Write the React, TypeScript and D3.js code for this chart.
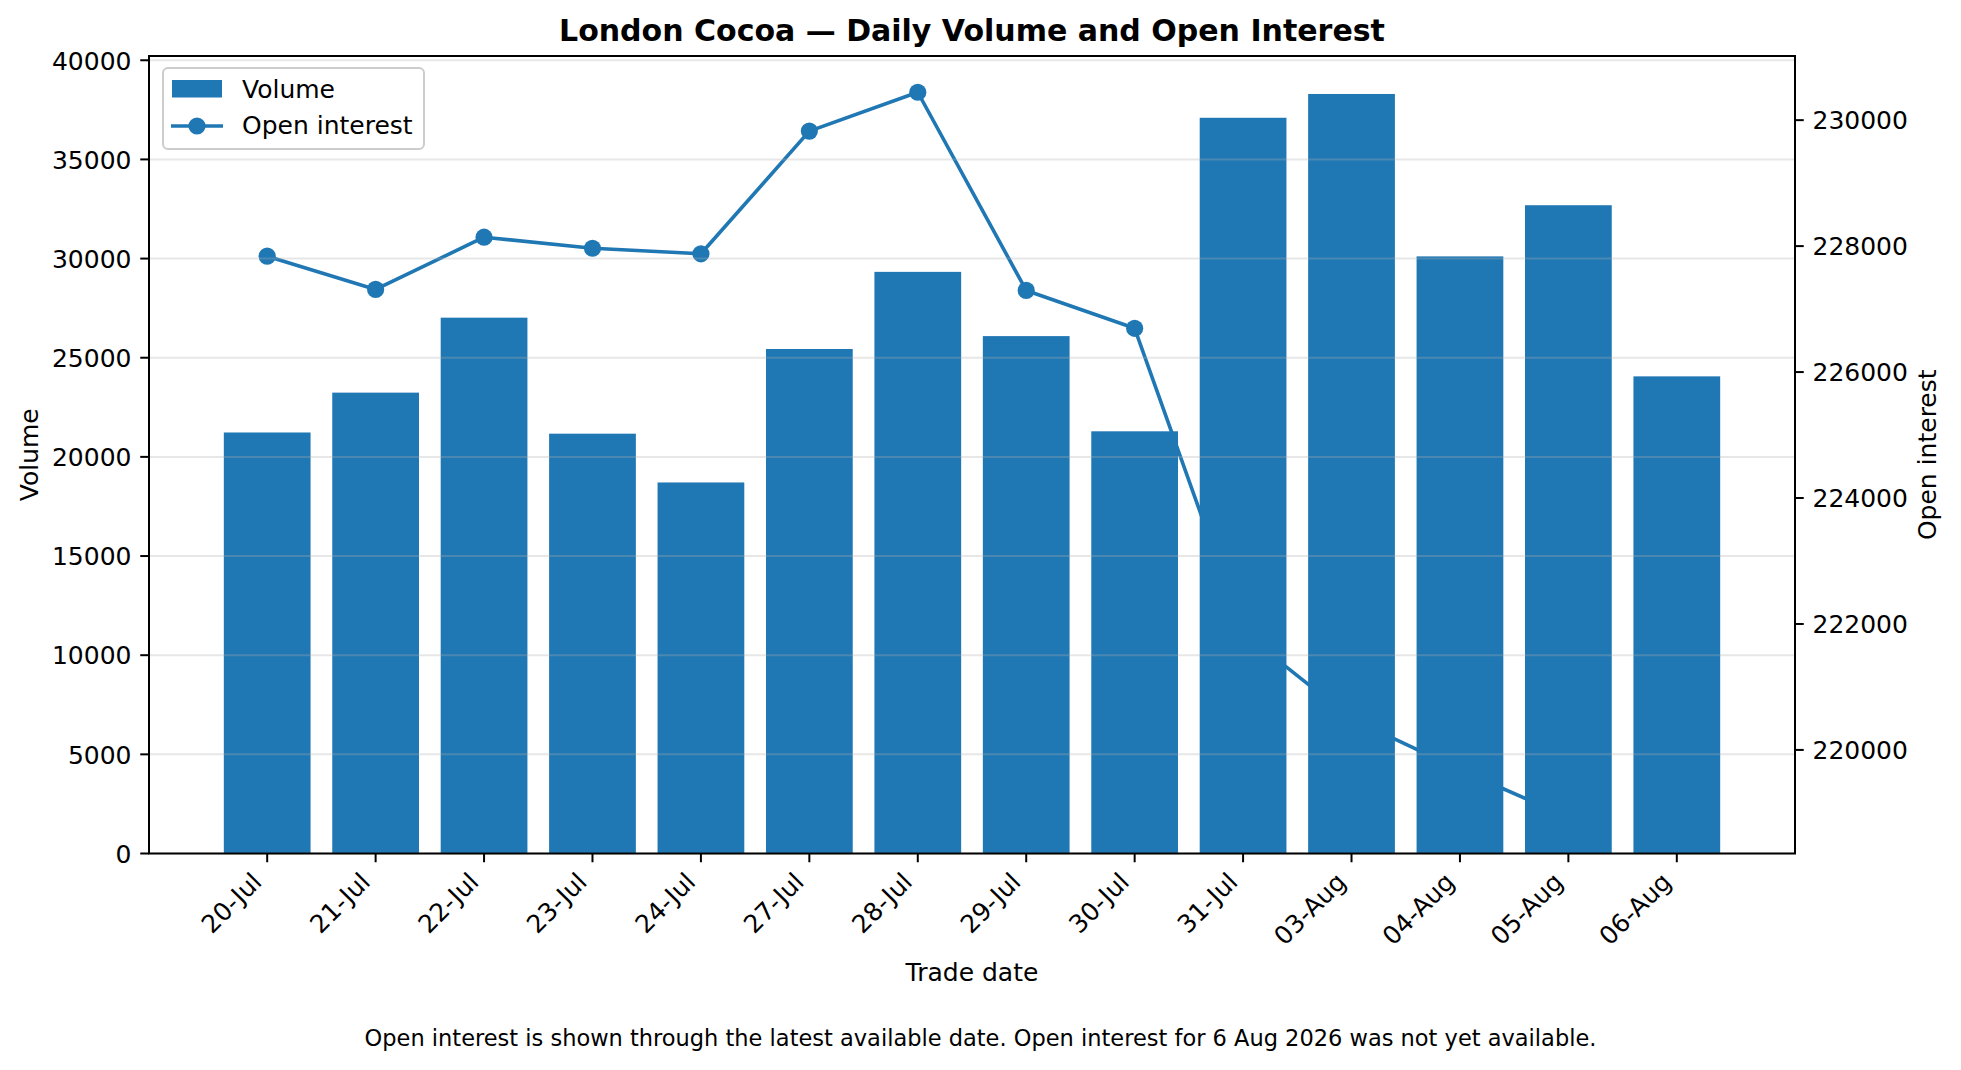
import React from 'react';
import * as d3 from 'd3';

const dates = ['20-Jul', '21-Jul', '22-Jul', '23-Jul', '24-Jul', '27-Jul', '28-Jul', '29-Jul', '30-Jul', '31-Jul', '03-Aug', '04-Aug', '05-Aug', '06-Aug'];
const volume = [21230, 23240, 27020, 21170, 18710, 25440, 29330, 26090, 21290, 37100, 38300, 30110, 32690, 24060];
const openInterest: (number | null)[] = [227840, 227312, 228141, 227966, 227878, 229826, 230443, 227296, 226695, 221864, 220496, 219685, 218931, null];
const volumeTicks = [0, 5000, 10000, 15000, 20000, 25000, 30000, 35000, 40000];
const oiTicks = [220000, 222000, 224000, 226000, 228000, 230000];

const W = 1961;
const H = 1070;
const L = 149;
const R = 1795;
const T = 56;
const B = 853.5;
const BLUE = '#1f77b4';
const FONT = 'DejaVu Sans, sans-serif';

export default function App() {
  const n = dates.length;
  const span = n - 1 + 0.8;
  const x = d3.scaleLinear().domain([-0.4 - 0.05 * span, n - 1 + 0.4 + 0.05 * span]).range([L, R]);
  const vmax = d3.max(volume) as number;
  const yL = d3.scaleLinear().domain([0, vmax * 1.05]).range([B, T]);
  const oiVals = openInterest.filter((v) => v != null) as number[];
  const omin = d3.min(oiVals) as number;
  const omax = d3.max(oiVals) as number;
  const orng = omax - omin;
  const yR = d3.scaleLinear().domain([omin - 0.05 * orng, omax + 0.05 * orng]).range([B, T]);

  const line = d3
    .line<number | null>()
    .defined((d) => d != null)
    .x((_, i) => x(i))
    .y((d) => yR(d as number));

  const bw = x(0.8) - x(0);
  const tickLen = 8.75;
  const fs = 25;

  return (
    <svg width={W} height={H} style={{ position: 'absolute', left: 0, top: 0, background: '#fff' }} fontFamily={FONT}>
      <rect x={0} y={0} width={W} height={H} fill="#fff" />
      {/* open interest line (drawn beneath bars) */}
      <path d={line(openInterest) || ''} fill="none" stroke={BLUE} strokeWidth={3.6} strokeLinejoin="round" />
      {openInterest.map((v, i) =>
        v == null ? null : <circle key={'m' + i} cx={x(i)} cy={yR(v)} r={8.6} fill={BLUE} />
      )}
      {/* bars */}
      {volume.map((v, i) => (
        <rect key={'b' + i} x={x(i) - bw / 2} y={yL(v)} width={bw} height={B - yL(v)} fill={BLUE} />
      ))}
      {/* grid */}
      {volumeTicks.map((t) => (
        <line key={'g' + t} x1={L} x2={R} y1={yL(t)} y2={yL(t)} stroke="#b0b0b0" strokeOpacity={0.3} strokeWidth={2} />
      ))}
      {/* spines */}
      <rect x={L} y={T} width={R - L} height={B - T} fill="none" stroke="#000" strokeWidth={2} />
      {/* left ticks */}
      {volumeTicks.map((t) => (
        <g key={'lt' + t}>
          <line x1={L - tickLen} x2={L} y1={yL(t)} y2={yL(t)} stroke="#000" strokeWidth={2} />
          <text x={L - 17.5} y={yL(t)} dy="0.37em" textAnchor="end" fontSize={fs} fill="#000">
            {t}
          </text>
        </g>
      ))}
      {/* right ticks */}
      {oiTicks.map((t) => (
        <g key={'rt' + t}>
          <line x1={R} x2={R + tickLen} y1={yR(t)} y2={yR(t)} stroke="#000" strokeWidth={2} />
          <text x={R + 17.5} y={yR(t)} dy="0.37em" textAnchor="start" fontSize={fs} fill="#000">
            {t}
          </text>
        </g>
      ))}
      {/* x ticks */}
      {dates.map((d, i) => (
        <g key={'xt' + d}>
          <line x1={x(i)} x2={x(i)} y1={B} y2={B + tickLen} stroke="#000" strokeWidth={2} />
          <text
            transform={`translate(${x(i) - 4},${B + 30}) rotate(-45)`}
            textAnchor="end"
            fontSize={fs}
            fill="#000"
          >
            {d}
          </text>
        </g>
      ))}
      {/* axis labels */}
      <text x={(L + R) / 2} y={981} textAnchor="middle" fontSize={fs} fill="#000">
        Trade date
      </text>
      <text transform={`translate(38,${(T + B) / 2}) rotate(-90)`} textAnchor="middle" fontSize={fs} fill="#000">
        Volume
      </text>
      <text transform={`translate(1936,${(T + B) / 2}) rotate(-90)`} textAnchor="middle" fontSize={fs} fill="#000">
        Open interest
      </text>
      {/* title */}
      <text x={(L + R) / 2} y={41} textAnchor="middle" fontSize={30} fontWeight="bold" fill="#000">
        London Cocoa — Daily Volume and Open Interest
      </text>
      {/* footnote */}
      <text x={W / 2} y={1046} textAnchor="middle" fontSize={22.5} fill="#000">
        Open interest is shown through the latest available date. Open interest for 6 Aug 2026 was not yet available.
      </text>
      {/* legend */}
      <g>
        <rect x={163} y={68} width={261} height={81} rx={5} fill="#fff" fillOpacity={0.8} stroke="#cccccc" strokeWidth={2} />
        <rect x={172} y={80} width={50} height={17.5} fill={BLUE} />
        <text x={242} y={98} fontSize={fs} fill="#000">
          Volume
        </text>
        <line x1={171} x2={223} y1={126} y2={126} stroke={BLUE} strokeWidth={3.6} />
        <circle cx={197} cy={126} r={8.6} fill={BLUE} />
        <text x={242} y={134} fontSize={fs} fill="#000">
          Open interest
        </text>
      </g>
    </svg>
  );
}
